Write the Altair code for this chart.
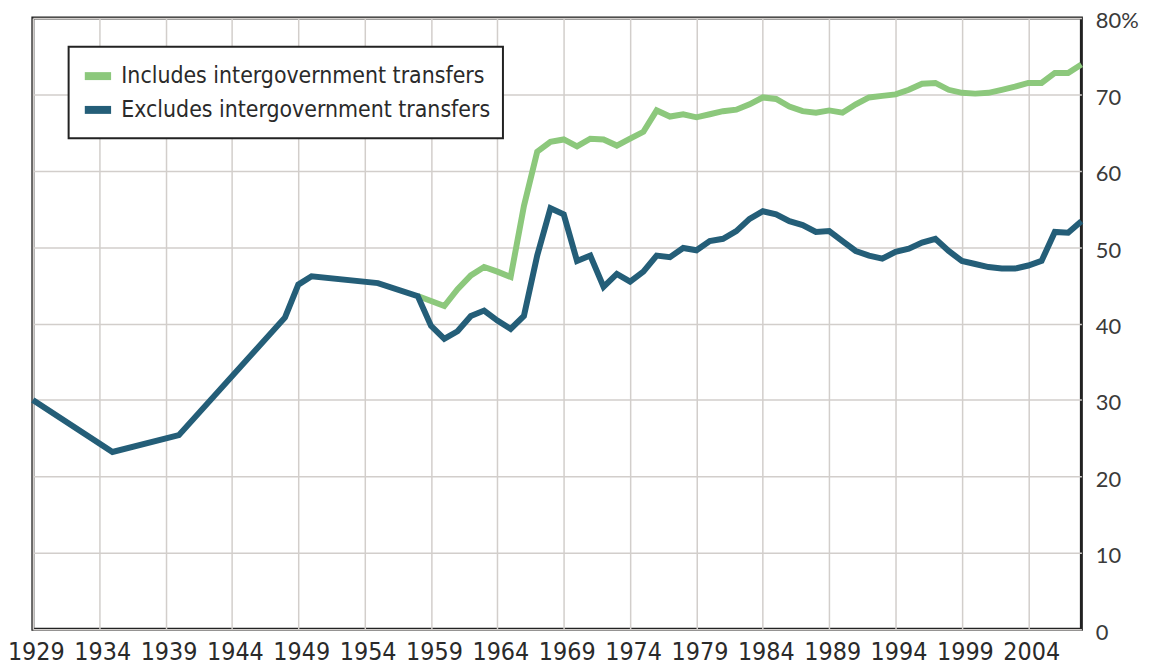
import altair as alt
import pandas as pd

excl_years = [1929, 1935, 1940, 1948, 1949, 1950, 1955, 1958, 1959, 1960,
              1961, 1962, 1963, 1964, 1965, 1966, 1967, 1968, 1969, 1970,
              1971, 1972, 1973, 1974, 1975, 1976, 1977, 1978, 1979, 1980,
              1981, 1982, 1983, 1984, 1985, 1986, 1987, 1988, 1989, 1990,
              1991, 1992, 1993, 1994, 1995, 1996, 1997, 1998, 1999, 2000,
              2001, 2002, 2003, 2004, 2005, 2006, 2007, 2008]
excl_vals = [30.0, 23.2, 25.4, 40.8, 45.1, 46.2, 45.3, 43.6, 39.7, 38.0,
             39.0, 41.0, 41.7, 40.4, 39.3, 41.0, 48.9, 55.1, 54.3, 48.2,
             48.9, 44.8, 46.5, 45.5, 46.8, 48.9, 48.7, 49.9, 49.6, 50.8,
             51.1, 52.1, 53.7, 54.7, 54.3, 53.4, 52.9, 52.0, 52.1, 50.8,
             49.5, 48.9, 48.5, 49.4, 49.8, 50.6, 51.1, 49.5, 48.2, 47.8,
             47.4, 47.2, 47.2, 47.6, 48.2, 52.0, 51.9, 53.4]

incl_years = [1958, 1960, 1961, 1962, 1963, 1964, 1965, 1966, 1967, 1968,
              1969, 1970, 1971, 1972, 1973, 1974, 1975, 1976, 1977, 1978,
              1979, 1980, 1981, 1982, 1983, 1984, 1985, 1986, 1987, 1988,
              1989, 1990, 1991, 1992, 1993, 1994, 1995, 1996, 1997, 1998,
              1999, 2000, 2001, 2002, 2003, 2004, 2005, 2006, 2007, 2008]
incl_vals = [43.6, 42.3, 44.5, 46.3, 47.4, 46.8, 46.1, 55.4, 62.5, 63.8,
             64.1, 63.2, 64.2, 64.1, 63.3, 64.2, 65.1, 67.9, 67.1, 67.4,
             67.0, 67.4, 67.8, 68.0, 68.7, 69.6, 69.4, 68.4, 67.8, 67.6,
             67.9, 67.6, 68.7, 69.6, 69.8, 70.0, 70.6, 71.4, 71.5, 70.6,
             70.2, 70.1, 70.2, 70.6, 71.0, 71.5, 71.5, 72.8, 72.8, 73.9]

series_names = ["Includes intergovernment transfers",
                "Excludes intergovernment transfers"]
series_colors = ["#8cc87c", "#245e78"]
x_ticks = list(range(1929, 2005, 5))
y_ticks = list(range(0, 81, 10))

COND = "DejaVu Sans Condensed, Liberation Sans, sans-serif"

df_incl = pd.DataFrame({"year": incl_years, "value": incl_vals,
                        "series": series_names[0]})
df_excl = pd.DataFrame({"year": excl_years, "value": excl_vals,
                        "series": series_names[1]})

color = alt.Color(
    "series:N",
    scale=alt.Scale(domain=series_names, range=series_colors),
    legend=alt.Legend(
        title=None,
        orient="none",
        legendX=36,
        legendY=29,
        direction="vertical",
        symbolType="stroke",
        symbolStrokeWidth=8,
        symbolSize=700,
        labelFont=COND,
        labelFontSize=23,
        labelColor="#2a2a2a",
        labelOffset=6,
        rowPadding=0,
        padding=12,
        strokeColor="#222222",
        fillColor="white",
        labelLimit=600,
    ),
)

x = alt.X(
    "year:Q",
    scale=alt.Scale(domain=[1929, 2008], nice=False, zero=False),
    axis=alt.Axis(
        title=None,
        values=x_ticks,
        format="d",
        labelFont=COND,
        labelFontSize=25,
        labelColor="#2a2a2a",
        labelPadding=10,
        labelOffset=3,
        ticks=False,
        domain=False,
        grid=True,
        gridColor="#d2cecb",
        gridWidth=1.5,
        labelFlush=False,
        labelOverlap=False,
    ),
)
y = alt.Y(
    "value:Q",
    scale=alt.Scale(domain=[0, 80], nice=False),
    axis=alt.Axis(
        title=None,
        orient="right",
        values=y_ticks,
        labelExpr="datum.value == 80 ? '80%' : datum.label",
        labelFont="Lato",
        labelFontSize=22,
        labelColor="#3a3a3a",
        labelPadding=14,
        labelAlign="left",
        labelOffset=3,
        ticks=False,
        domain=False,
        grid=True,
        gridColor="#d2cecb",
        gridWidth=1.5,
        labelFlush=False,
        labelOverlap=False,
    ),
)

green = alt.Chart(df_incl).mark_line(strokeWidth=6).encode(x=x, y=y, color=color)
blue = alt.Chart(df_excl).mark_line(strokeWidth=6).encode(x=x, y=y, color=color)

chart = (
    alt.layer(green, blue)
    .properties(
        width=1055,
        height=615,
        background="white",
        autosize=alt.AutoSizeParams(type="none"),
        padding={"left": 25, "top": 8, "right": 62, "bottom": 36},
    )
    .configure_view(stroke="#222222", strokeWidth=3)
    .configure_legend(strokeWidth=2)
)

chart.save("out.html", embed_options={"renderer": "svg", "actions": False})
